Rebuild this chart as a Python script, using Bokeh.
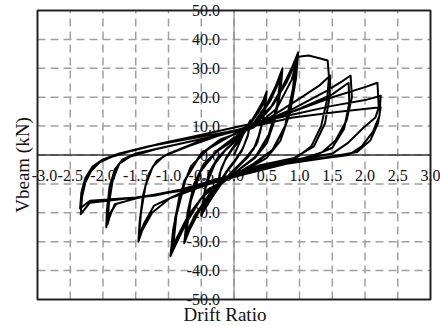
import math
from bokeh.plotting import figure
from bokeh.models import Range1d
from bokeh.embed import file_html
from bokeh.resources import INLINE
from bokeh.core.properties import value

# ---------------- data ----------------
x_ticks = [-3.0, -2.5, -2.0, -1.5, -1.0, -0.5, 0.0, 0.5, 1.0, 1.5, 2.0, 2.5, 3.0]
x_tick_labels = ["-3.0", "-2.5", "-2.0", "-1.5", "-1.0", "-0.5", "0.0", "0.5", "1.0", "1.5", "2.0", "2.5", "3.0"]
y_ticks = [-50, -40, -30, -20, -10, 0, 10, 20, 30, 40, 50]
y_tick_labels = ["-50.0", "-40.0", "-30.0", "-20.0", "-10.0", "0.0", "10.0", "20.0", "30.0", "40.0", "50.0"]

drift_025 = [0.00, 0.08, 0.17, 0.25, 0.22, 0.14, 0.04, -0.08, -0.18, -0.25, -0.22, -0.14, -0.04,
             0.08, 0.18, 0.24, 0.21, 0.12, 0.02, -0.10, -0.19, -0.24, -0.20, -0.11, -0.02]
force_025 = [0.0, 4.0, 8.5, 12.0, 7.5, 2.5, -1.0, -4.5, -8.0, -11.0, -6.5, -2.0, 1.5,
             5.0, 8.5, 11.0, 6.5, 1.5, -2.0, -5.5, -8.5, -10.0, -5.0, -0.5, 2.5]

drift_050 = [0.10, 0.22, 0.34, 0.44, 0.50, 0.47, 0.40, 0.30, 0.15, 0.00, -0.18, -0.33, -0.44, -0.50, -0.46, -0.38, -0.25, -0.10,
             0.08, 0.25, 0.40, 0.49, 0.45, 0.36, 0.22, 0.02, -0.22, -0.40, -0.49, -0.44, -0.31, -0.14,
             0.06, 0.24, 0.38, 0.48, 0.44, 0.34, 0.18, -0.02, -0.24, -0.41, -0.48, -0.43, -0.29, -0.12]
force_050 = [6.0, 10.0, 14.5, 18.5, 22.0, 15.5, 8.0, 2.0, -2.0, -5.0, -9.5, -14.5, -18.5, -21.0, -14.0, -6.0, -1.0, 2.5,
             6.0, 11.0, 16.0, 20.0, 13.0, 4.5, -0.5, -5.0, -10.5, -16.0, -20.0, -11.5, -3.5, 1.5,
             5.5, 10.5, 15.0, 19.0, 12.0, 3.5, -1.0, -5.5, -11.0, -16.5, -19.0, -10.5, -3.0, 2.0]

drift_075 = [0.05, 0.30, 0.50, 0.64, 0.74, 0.71, 0.62, 0.50, 0.32, 0.02, -0.28, -0.52, -0.68, -0.76, -0.71, -0.61, -0.46, -0.22,
             0.08, 0.38, 0.58, 0.73, 0.68, 0.56, 0.36, 0.02, -0.34, -0.60, -0.74, -0.68, -0.52, -0.28,
             0.06, 0.36, 0.56, 0.71, 0.66, 0.53, 0.33, 0.00, -0.36, -0.61, -0.73, -0.66, -0.50, -0.26]
force_075 = [5.5, 11.0, 17.5, 24.0, 30.0, 22.0, 12.0, 4.0, -1.0, -6.0, -11.5, -19.0, -26.0, -30.5, -20.0, -10.0, -3.0, 2.0,
             6.5, 12.5, 20.0, 28.0, 19.0, 8.0, 0.0, -6.0, -12.5, -21.0, -28.0, -17.0, -6.0, 1.0,
             6.0, 12.0, 19.0, 26.5, 17.5, 7.0, -0.5, -6.5, -13.0, -21.5, -27.0, -16.0, -5.0, 1.5]

drift_100 = [0.00, 0.30, 0.55, 0.75, 0.88, 0.98, 0.95, 0.86, 0.71, 0.50, 0.20, -0.20, -0.50, -0.74, -0.89, -0.97, -0.93, -0.83, -0.66, -0.40, -0.10,
             0.28, 0.60, 0.82, 0.96, 0.92, 0.80, 0.60, 0.30, 0.00, -0.40, -0.70, -0.88, -0.95, -0.90, -0.76, -0.52, -0.20,
             0.25, 0.58, 0.80, 0.94, 0.90, 0.78, 0.58, 0.28, -0.05, -0.42, -0.72, -0.87, -0.93, -0.88, -0.74, -0.50, -0.20]
force_100 = [6.0, 10.0, 16.0, 24.0, 30.0, 35.5, 27.0, 15.0, 5.0, -1.0, -5.0, -9.0, -15.0, -24.0, -31.0, -35.0, -26.0, -14.0, -4.0, 2.0, 6.0,
             10.5, 17.5, 26.0, 33.0, 24.0, 11.0, 2.0, -3.0, -7.0, -12.0, -21.0, -29.0, -33.5, -22.0, -9.0, 0.0, 5.0,
             10.0, 17.0, 25.0, 32.0, 23.0, 10.0, 1.5, -3.5, -7.5, -12.5, -22.0, -28.5, -32.0, -21.0, -8.5, 0.5, 5.5]

drift_150 = [0.30, 0.65, 0.88, 0.98, 1.14, 1.32, 1.43, 1.45, 1.42, 1.33, 1.18, 0.95, 0.50, 0.00, -0.50, -0.98, -1.25, -1.40, -1.46,
             -1.44, -1.39, -1.30, -1.18, -1.00, -0.50,
             0.05, 0.55, 1.00, 1.30, 1.47, 1.46, 1.39, 1.22, 0.92, 0.40, -0.20, -0.80, -1.22, -1.38, -1.45,
             -1.42, -1.35, -1.24, -1.08, -0.70, -0.20]
force_150 = [9.5, 16.0, 26.0, 34.0, 34.4, 33.4, 32.7, 27.0, 19.0, 10.0, 3.0, -1.0, -3.0, -7.0, -11.0, -15.0, -20.0, -26.0, -30.0,
             -23.0, -14.0, -6.5, -2.0, 0.5, 5.0,
             8.5, 13.0, 19.5, 24.0, 27.5, 20.0, 11.0, 3.0, -1.0, -3.5, -8.5, -13.0, -17.5, -24.0, -28.0,
             -20.0, -10.5, -4.0, -0.5, 3.0, 7.0]

drift_200 = [0.40, 0.90, 1.40, 1.65, 1.78, 1.80, 1.72, 1.55, 1.35, 1.00, 0.50, -0.20, -0.90, -1.50, -1.80, -1.93, -1.95,
             -1.94, -1.90, -1.82, -1.70, -1.50, -1.00, -0.50,
             0.00, 0.50, 1.00, 1.50, 1.75, 1.76, 1.68, 1.50, 1.20, 0.60, 0.00, -0.70, -1.40, -1.82, -1.90, -1.93,
             -1.91, -1.85, -1.75, -1.58, -1.20, -0.60, -0.10]
force_200 = [11.0, 16.0, 22.0, 25.5, 27.5, 20.0, 12.0, 5.0, 1.0, -1.5, -3.5, -8.0, -12.5, -15.0, -17.0, -21.5, -25.0,
             -19.0, -11.0, -5.0, -1.5, 0.5, 3.0, 5.5,
             8.0, 11.5, 16.0, 21.0, 25.0, 18.0, 9.0, 2.5, -0.5, -3.0, -7.0, -11.5, -14.5, -17.0, -21.5, -24.0,
             -17.0, -8.5, -3.0, -0.5, 2.0, 5.0, 7.5]

drift_225 = [0.40, 0.90, 1.50, 2.00, 2.19, 2.21, 2.16, 1.98, 1.73, 1.50, 0.90, 0.25, -0.50, -1.20, -1.80, -2.20, -2.34,
             -2.32, -2.27, -2.18, -2.05, -1.85, -1.55, -1.12, -0.60, -0.20,
             0.30, 0.90, 1.50, 2.00, 2.24, 2.22, 2.12, 1.95, 1.75, 1.40, 0.80, 0.10, -0.70, -1.50, -2.20, -2.35,
             -2.33, -2.27, -2.16, -2.00, -1.75, -1.30, -0.70, -0.10,
             0.40, 0.90, 1.60, 2.24, 2.20, 2.08, 1.88, 1.50, 0.80, 0.20]
force_225 = [11.0, 15.0, 20.0, 23.5, 25.0, 16.5, 13.0, 9.5, 4.0, 0.5, -2.0, -5.5, -10.5, -14.0, -15.5, -16.5, -20.5,
             -14.5, -9.5, -5.5, -2.5, -0.5, 1.5, 4.0, 6.5, 8.5,
             11.0, 14.0, 17.0, 19.0, 20.5, 13.5, 8.0, 3.0, 0.0, -1.0, -3.0, -7.0, -12.0, -14.7, -15.8, -18.5,
             -13.0, -8.0, -4.0, -1.5, 0.5, 3.0, 5.5, 8.0,
             10.5, 13.0, 15.0, 16.5, 11.0, 5.0, 1.0, -0.5, -2.5, -6.0]

drift = drift_025 + drift_050 + drift_075 + drift_100 + drift_150 + drift_200 + drift_225
force = force_025 + force_050 + force_075 + force_100 + force_150 + force_200 + force_225

FONT = "Liberation Serif"
W, H = 440, 326
# plot box in canvas pixels (layout only)
BOX_L, BOX_R, BOX_T, BOX_B = 37, 430, 10, 299

x0, x1 = x_ticks[0], x_ticks[-1]
y0, y1 = y_ticks[0], y_ticks[-1]
sx = (BOX_R - BOX_L) / (x1 - x0)
sy = (BOX_B - BOX_T) / (y1 - y0)

p = figure(width=W, height=H,
           x_range=Range1d(x0 - BOX_L / sx, x1 + (W - BOX_R) / sx),
           y_range=Range1d(y0 - (H - BOX_B) / sy, y1 + BOX_T / sy),
           x_axis_type=None, y_axis_type=None,
           output_backend="svg", toolbar_location=None,
           min_border=0)
p.outline_line_color = None
p.background_fill_color = "white"
p.border_fill_color = "white"
p.xgrid.visible = False
p.ygrid.visible = False

GRID = "#a0a0a0"
# dashed grid
p.segment(x0=x_ticks[1:-1], y0=[y0] * (len(x_ticks) - 2), x1=x_ticks[1:-1], y1=[y1] * (len(x_ticks) - 2),
          line_color=GRID, line_width=1.5, line_dash="8 5")
p.segment(x0=[x0] * (len(y_ticks) - 2), y0=y_ticks[1:-1], x1=[x1] * (len(y_ticks) - 2), y1=y_ticks[1:-1],
          line_color=GRID, line_width=1.5, line_dash="8 5")

# axes crossing at zero
p.segment(x0=[0], y0=[y0], x1=[0], y1=[y1], line_color="#8a8a8a", line_width=1.2)
p.segment(x0=[x0], y0=[0], x1=[x1], y1=[0], line_color="#333333", line_width=1.6)

# tick labels
p.text(x=[0] * len(y_ticks), y=y_ticks, text=y_tick_labels, x_offset=-14,
       text_align="right", text_baseline="middle",
       text_font=value(FONT), text_font_size="16px", text_color="#111111")
p.text(x=x_ticks[1:], y=[0] * (len(x_ticks) - 1), text=x_tick_labels[1:], y_offset=20,
       text_align="center", text_baseline="middle",
       text_font=value(FONT), text_font_size="16px", text_color="#111111")
p.text(x=x_ticks[:1], y=[0], text=x_tick_labels[:1], x_offset=7, y_offset=20,
       text_align="center", text_baseline="middle",
       text_font=value(FONT), text_font_size="16px", text_color="#111111")

# hysteresis curve
p.line(drift, force, line_color="black", line_width=2.0, line_join="round")

# plot border
p.quad(left=[x0], right=[x1], bottom=[y0], top=[y1], fill_color=None,
       line_color="#222222", line_width=2)

# axis titles
p.text(x=[x0], y=[0], text=["Vbeam (kN)"], x_offset=-15, y_offset=10, angle=math.pi / 2,
       text_align="center", text_baseline="middle",
       text_font=value(FONT), text_font_size="19px", text_color="#111111")
p.text(x=[0], y=[y0], text=["Drift Ratio"], x_offset=-9, y_offset=15,
       text_align="center", text_baseline="middle",
       text_font=value(FONT), text_font_size="19px", text_color="#111111")

open("out.html", "w").write(file_html(p, INLINE))
